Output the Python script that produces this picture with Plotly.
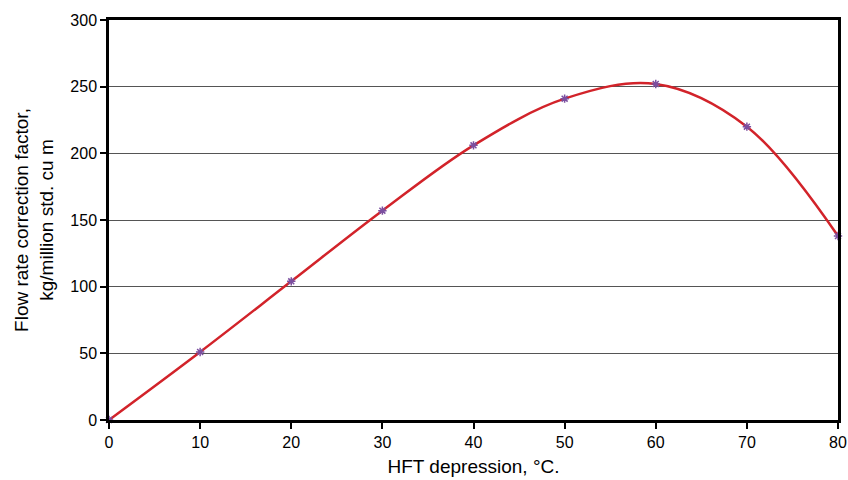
import plotly.graph_objects as go

hft_depression = [0, 10, 20, 30, 40, 50, 60, 70, 80]
correction_factor = [0, 51, 104, 157, 206, 241, 252, 220, 138]

x_ticks = [0, 10, 20, 30, 40, 50, 60, 70, 80]
y_ticks = [0, 50, 100, 150, 200, 250, 300]

fig = go.Figure()
fig.add_trace(go.Scatter(
    x=hft_depression, y=correction_factor,
    mode="lines",
    line=dict(color="#d2232a", width=2.5, shape="spline", smoothing=1.0),
    showlegend=False, cliponaxis=False,
))
fig.add_trace(go.Scatter(
    x=hft_depression, y=correction_factor,
    mode="markers",
    marker=dict(symbol="asterisk-open", size=7, color="#7b4fa0",
                line=dict(color="#7b4fa0", width=1.5)),
    showlegend=False, cliponaxis=False,
))

font_family = "Liberation Sans, Arial, sans-serif"
fig.update_layout(
    width=848, height=480,
    margin=dict(l=109, r=10, t=20, b=60, autoexpand=False),
    paper_bgcolor="white", plot_bgcolor="white",
    font=dict(family=font_family, size=16, color="black"),
    xaxis=dict(
        range=[0, 80], tickvals=x_ticks, ticks="outside", ticklen=6,
        tickwidth=2, tickcolor="black",
        showline=True, linecolor="black", linewidth=2.5, mirror=True,
        showgrid=False, zeroline=False, automargin=False,
        title=dict(text="HFT depression, °C.", standoff=10, font=dict(size=19)),
        tickfont=dict(size=16),
    ),
    yaxis=dict(
        range=[0, 300], tickvals=y_ticks, ticks="outside", ticklen=6,
        tickwidth=2, tickcolor="black",
        showline=True, linecolor="black", linewidth=2.5, mirror=True,
        showgrid=True, gridcolor="#555555", gridwidth=1,
        zeroline=False, automargin=False,
        title=dict(text="Flow rate correction factor,<br>kg/million std. cu m",
                   standoff=12, font=dict(size=19)),
        tickfont=dict(size=16),
    ),
)

fig.write_html("out.html", config={"displayModeBar": False},
               post_script="document.body.style.margin='0px';")
